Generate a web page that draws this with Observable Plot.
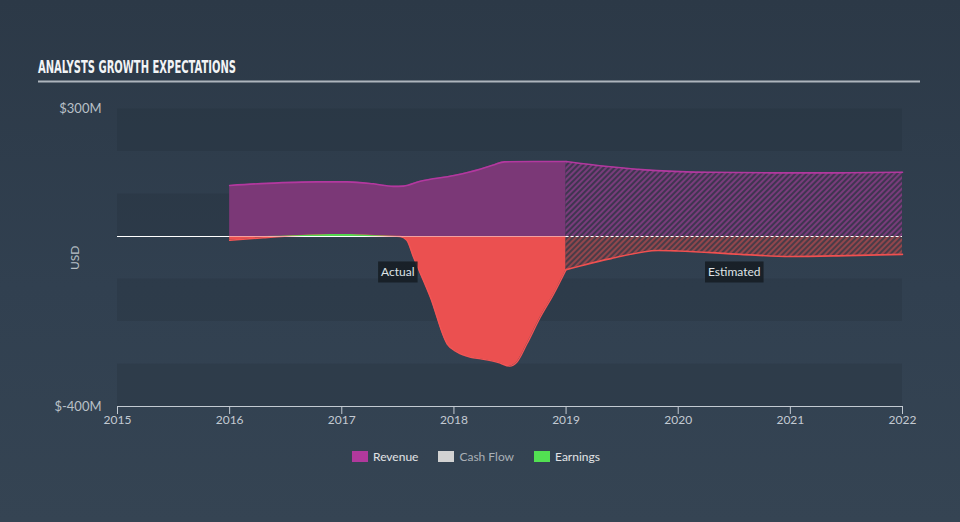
<!DOCTYPE html>
<html>
<head>
<meta charset="utf-8">
<script src="https://cdn.jsdelivr.net/npm/d3@7"></script>
<script src="https://cdn.jsdelivr.net/npm/@observablehq/plot@0.6"></script>
<style>
  html, body { margin: 0; padding: 0; }
  body {
    width: 960px; height: 522px; overflow: hidden; position: relative;
    background: linear-gradient(180deg, #2c3947 0%, #314050 55%, #354453 100%);
    font-family: Lato, "Open Sans", sans-serif;
  }
  #title { position: absolute; left: 0; top: 0; }
  #chart { position: absolute; left: 0; top: 88px; }
  #legend { position: absolute; left: 352px; top: 449px; display: flex; align-items: center; font-size: 12px; }
  .item { display: flex; align-items: center; margin-right: 20px; }
  .sw { width: 16px; height: 11px; margin-right: 5px; }
</style>
</head>
<body>
<svg id="title" width="960" height="88">
  <text x="38" y="73" fill="#f2f4f6" font-family="'Liberation Sans Narrow', 'DejaVu Sans Condensed', 'Liberation Sans', sans-serif" font-weight="bold" font-size="18" textLength="198" lengthAdjust="spacingAndGlyphs">ANALYSTS GROWTH EXPECTATIONS</text>
  <line x1="38" x2="920" y1="81.5" y2="81.5" stroke="#aeb5bd" stroke-width="2"></line>
</svg>
<div id="chart"></div>
<div id="legend"></div>
<script>
// ---- data (values in $M) ----
const yearTicks = [2015, 2016, 2017, 2018, 2019, 2020, 2021, 2022];
const yTickValues = [-400, 300];
const yTickLabels = ["$-400M", "$300M"];

const revActYears = [2016, 2016.33, 2016.78, 2017.05, 2017.28, 2017.46, 2017.55, 2017.7, 2018, 2018.24, 2018.36, 2018.45, 2018.71, 2019];
const revAct      = [120, 125, 128.6, 128.6, 124, 118, 118.6, 130, 143.5, 159, 169, 175.7, 176.5, 176.5];
const revEstYears = [2019, 2019.37, 2019.81, 2020.26, 2020.85, 2021.45, 2022];
const revEst      = [176.5, 164.7, 155, 151, 149.8, 149.8, 151];

const earnActYears = [2016, 2016.3, 2016.6, 2017, 2017.3, 2017.52, 2017.58, 2017.64, 2017.79, 2017.94, 2018.03, 2018.15, 2018.24, 2018.39, 2018.5, 2018.56, 2018.65, 2018.77, 2018.89, 2019];
const earnAct      = [-9, -3, 2, 4.5, 2, 0, -9, -49, -143, -253, -272, -284, -288, -296, -305, -296, -253, -190, -135, -78];
const earnEstYears = [2019, 2019.4, 2019.82, 2020, 2020.56, 2021, 2021.5, 2022];
const earnEst      = [-78, -52, -33, -34, -42, -47, -45, -42];

const phaseLabels = ["Actual", "Estimated"];
const phaseLabelYears = [2017.5, 2020.5];
const phaseLabelValues = [-85, -85];

const legendNames = ["Revenue", "Cash Flow", "Earnings"];
const legendColors = ["#b0399c", "#d2d2d2", "#52e052"];
const legendTextColors = ["#e2e4e6", "#aab0b6", "#e2e4e6"];

// ---- build ----
const zip = (xs, ys) => xs.map((x, i) => ({x, y: ys[i]}));
const revActRows = zip(revActYears, revAct);
const revEstRows = zip(revEstYears, revEst);
const earnActRows = zip(earnActYears, earnAct);
const earnEstRows = zip(earnEstYears, earnEst);
const labelRows = phaseLabels.map((t, i) => ({t, x: phaseLabelYears[i], y: phaseLabelValues[i]}));

const xDomain = [yearTicks[0], yearTicks[yearTicks.length - 1]];
const yDomain = [yTickValues[0], yTickValues[1]];
const bandStarts = d3.range(yDomain[0], yDomain[1], 200);
const curve = "monotone-x";
const REV_EST_FILL = "#573461";
const EARN_EST_FILL = "#6e4248";

const chart = Plot.plot({
  width: 960,
  height: 352,
  marginLeft: 117,
  marginRight: 58,
  marginTop: 20.5,
  marginBottom: 34,
  x: {domain: xDomain},
  y: {domain: yDomain},
  style: {background: "transparent", color: "#c3c9d0", fontFamily: "Lato, 'Open Sans', sans-serif", fontSize: "12px"},
  marks: [
    Plot.rectY(bandStarts, {x1: xDomain[0], x2: xDomain[1], y1: d => d, y2: d => d + 100, fill: "#1c2631", fillOpacity: 0.2}),
    Plot.ruleY([0], {stroke: "#ffffff", strokeWidth: 1.2}),
    // revenue
    Plot.areaY(revActRows, {x: "x", y1: 0, y2: "y", fill: "#7b3877", curve}),
    Plot.areaY(revEstRows, {x: "x", y1: 0, y2: "y", fill: REV_EST_FILL, curve}),
    // earnings
    Plot.areaY(earnActRows, {x: "x", y1: 0, y2: d => Math.min(0, d.y), fill: "#eb5050", curve}),
    Plot.areaY(earnEstRows, {x: "x", y1: 0, y2: "y", fill: EARN_EST_FILL, curve}),
    Plot.lineY(revActRows, {x: "x", y: "y", stroke: "#b3389f", strokeWidth: 1.6, curve}),
    Plot.lineY(revEstRows, {x: "x", y: "y", stroke: "#b3389f", strokeWidth: 1.6, curve}),
    Plot.lineY(earnActRows, {x: "x", y: "y", stroke: "#f25555", strokeWidth: 1.4, curve}),
    Plot.lineY(earnEstRows, {x: "x", y: "y", stroke: "#f05050", strokeWidth: 1.6, curve}),
    Plot.areaY(earnActRows, {x: "x", y1: 0, y2: d => Math.max(0, d.y), fill: "#52d84f", curve}),
    // zero line over areas
    Plot.ruleY([0], {x1: revActYears[0], x2: revActYears[revActYears.length - 1], stroke: "#ffffff", strokeOpacity: 0.45, strokeWidth: 1.2}),
    Plot.ruleY([0], {x1: revEstYears[0], x2: xDomain[1], stroke: "#ffffff", strokeWidth: 1.2, strokeDasharray: "3,2"}),
    // axes
    Plot.axisY({ticks: yTickValues, tickFormat: d => yTickLabels[yTickValues.indexOf(d)], tickSize: 0, tickPadding: 16, fontSize: 13, color: "#b9c0c7", label: null}),
    Plot.text(["USD"], {frameAnchor: "left", textAnchor: "middle", rotate: -90, dx: -42, fill: "#b9c0c7", fontSize: 12}),
    Plot.ruleY([yDomain[0]], {stroke: "#c3cad2", strokeWidth: 1.2}),
    Plot.axisX({ticks: yearTicks, tickFormat: d3.format("d"), tickSize: 8, tickPadding: 1, fontSize: 12, color: "#c3cad2", label: null}),
    // phase labels
    Plot.text(labelRows, {x: "x", y: "y", text: "t", fill: "#dfe3e7", fontSize: 12})
  ]
});
document.getElementById("chart").appendChild(chart);

// hatch patterns for estimated areas
const svg = d3.select(chart);
const defs = svg.insert("defs", ":first-child");
function hatch(id, bg, line) {
  const p = defs.append("pattern").attr("id", id).attr("patternUnits", "userSpaceOnUse")
    .attr("width", 4).attr("height", 4).attr("patternTransform", "rotate(45)");
  p.append("rect").attr("width", 4).attr("height", 4).attr("fill", bg);
  p.append("line").attr("x1", 1).attr("x2", 1).attr("y1", 0).attr("y2", 4).attr("stroke", line).attr("stroke-width", 1.6);
}
hatch("hatchRev", "#3f3550", "#873d86");
hatch("hatchEarn", "#4a3c48", "#a4484d");
svg.selectAll(`[fill="${REV_EST_FILL}"]`).attr("fill", "url(#hatchRev)");
svg.selectAll(`[fill="${EARN_EST_FILL}"]`).attr("fill", "url(#hatchEarn)");

// dark boxes behind phase labels
svg.selectAll("text").filter(function() { return phaseLabels.includes(this.textContent); }).each(function() {
  const b = this.getBBox();
  const tr = this.getAttribute("transform");
  const r = document.createElementNS("http://www.w3.org/2000/svg", "rect");
  r.setAttribute("x", b.x - 3); r.setAttribute("y", b.y - 3);
  r.setAttribute("width", b.width + 6); r.setAttribute("height", b.height + 6);
  r.setAttribute("fill", "#161c23"); r.setAttribute("fill-opacity", "0.88");
  if (tr) r.setAttribute("transform", tr);
  this.parentNode.insertBefore(r, this);
});

// legend
const legend = d3.select("#legend");
legendNames.forEach((n, i) => {
  const it = legend.append("div").attr("class", "item");
  it.append("div").attr("class", "sw").style("background", legendColors[i]);
  it.append("span").style("color", legendTextColors[i]).text(n);
});
</script>
</body>
</html>
